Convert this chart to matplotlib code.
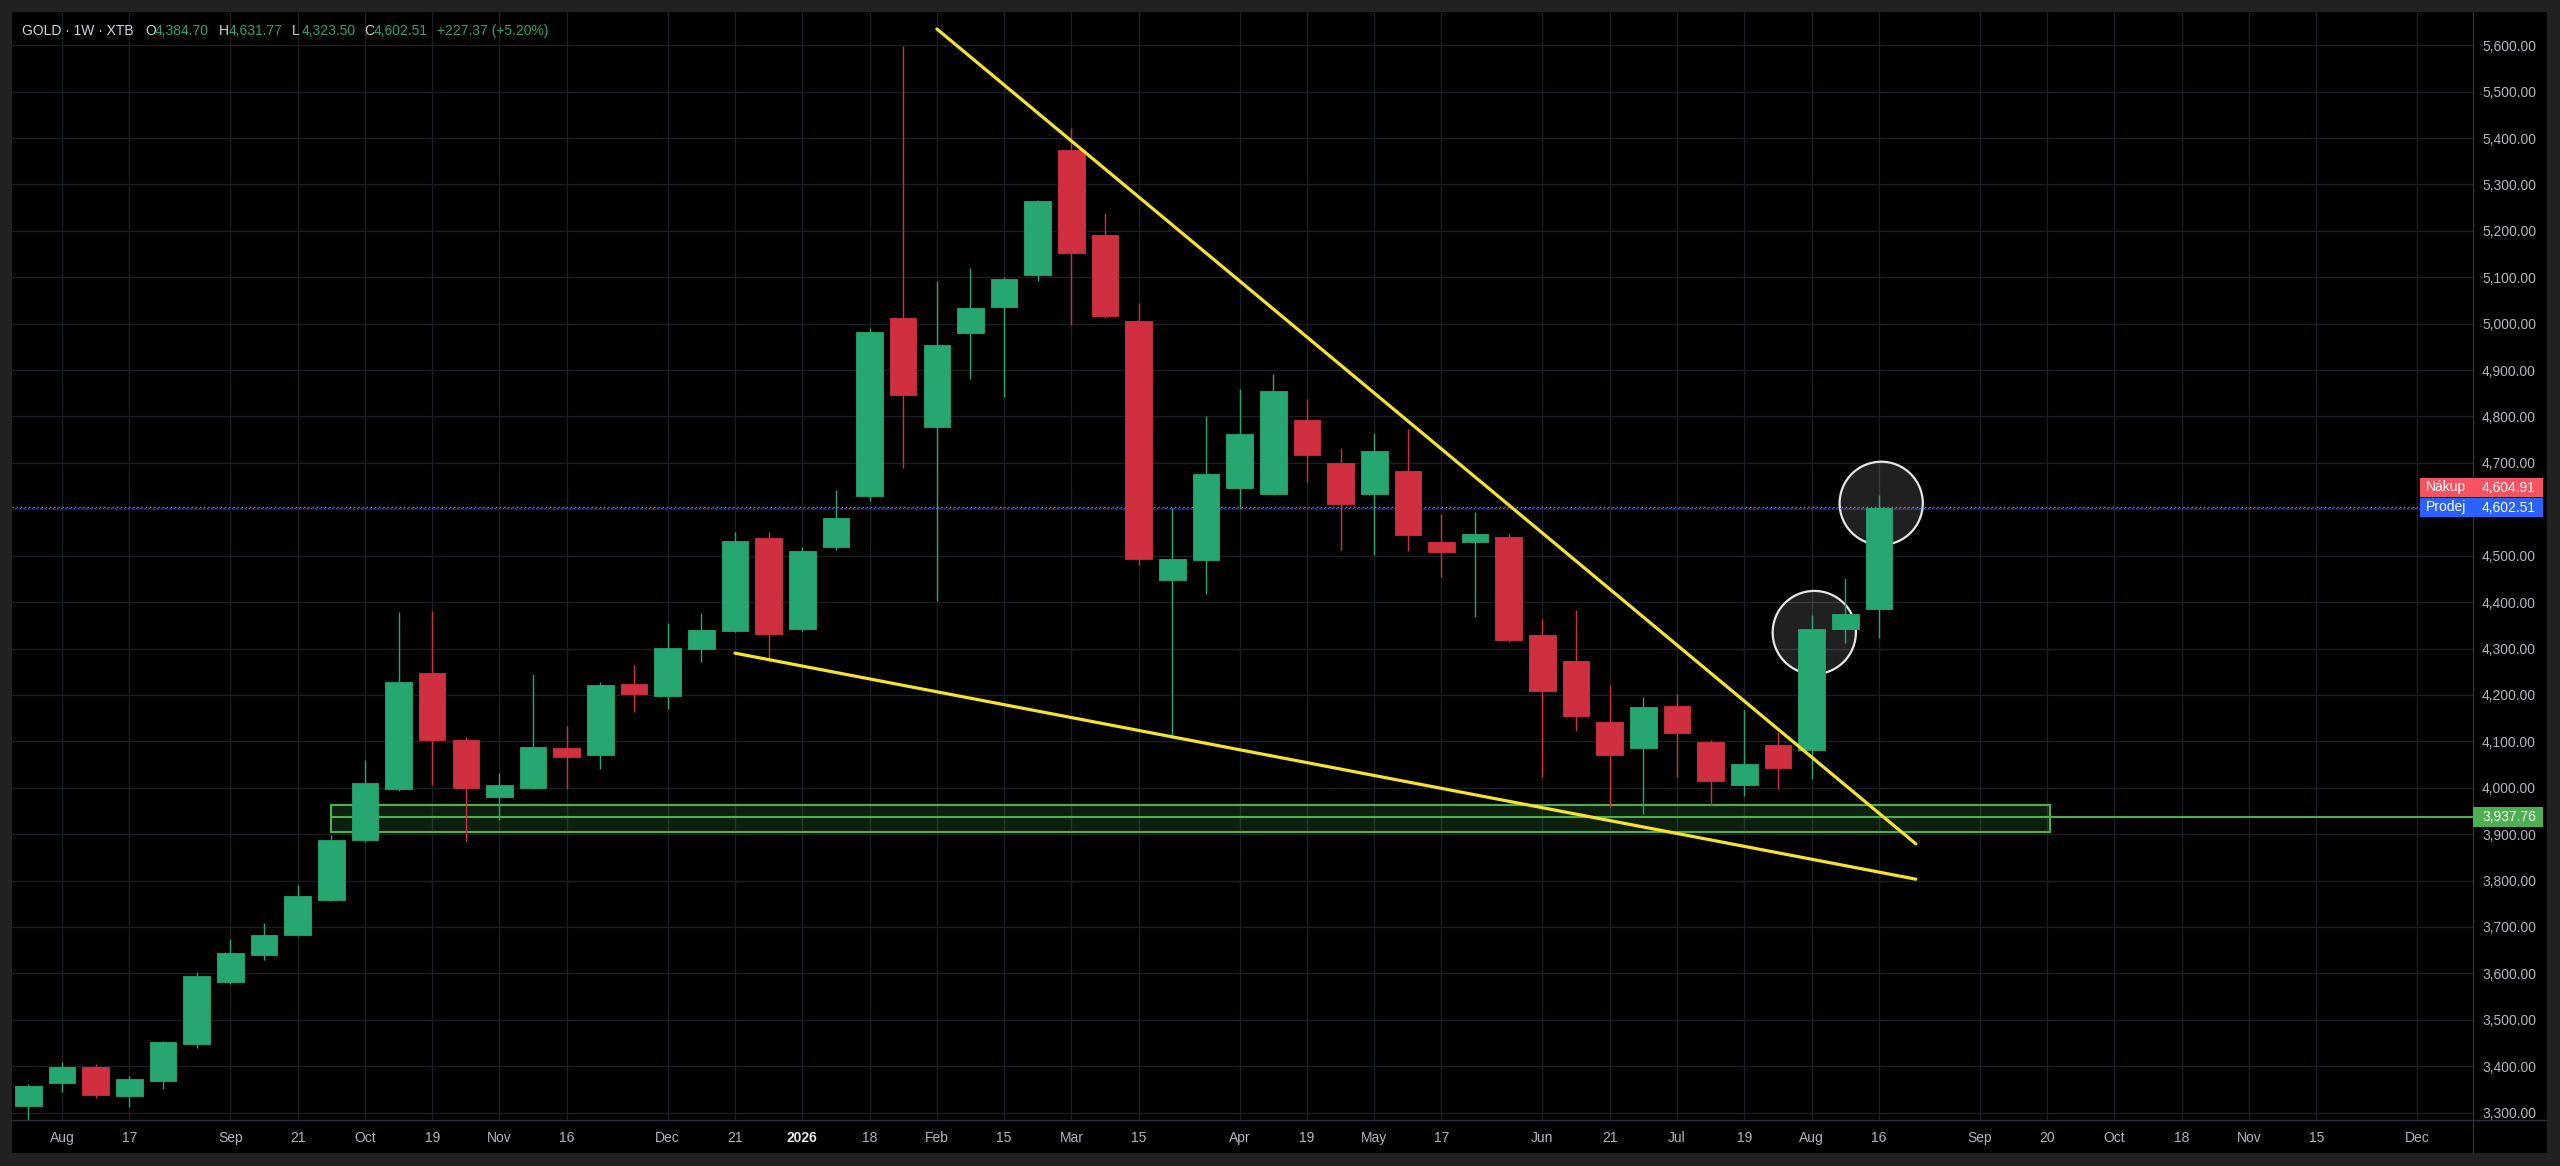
import numpy as np
import pandas as pd
import matplotlib.pyplot as plt
from matplotlib.patches import Rectangle, Ellipse

plt.rcParams['font.family'] = ['Liberation Sans', 'DejaVu Sans']

# GOLD weekly candles (XTB), weeks start on Sunday
weeks = pd.date_range('2025-07-27', periods=56, freq='W-SUN')

opens = [3315, 3363, 3398, 3335, 3368, 3447, 3581, 3640, 3683, 3758,
         3887, 3998, 4247, 4103, 3980, 4000, 4086, 4071, 4224, 4197,
         4299, 4338, 4538, 4342, 4519, 4628, 5013, 4778, 4979, 5036,
         5105, 5375, 5192, 5006, 4447, 4490, 4646, 4632, 4793, 4700,
         4632, 4683, 4530, 4530, 4541, 4329, 4274, 4142, 4086, 4176,
         4099, 4006, 4092, 4081, 4341, 4384.70]
highs = [3362, 3409, 3405, 3379, 3455, 3602, 3675, 3708, 3791, 3899,
         4060, 4379, 4381, 4110, 4032, 4246, 4132, 4227, 4264, 4355,
         4376, 4550, 4550, 4519, 4642, 4991, 5598, 5092, 5120, 5100,
         5267, 5421, 5239, 5045, 4603, 4801, 4859, 4892, 4837, 4731,
         4765, 4774, 4590, 4595, 4547, 4364, 4383, 4221, 4195, 4202,
         4103, 4168, 4121, 4372, 4451, 4631.77]
lows = [3282, 3345, 3331, 3312, 3351, 3439, 3578, 3628, 3681, 3755,
        3884, 3994, 4005, 3886, 3930, 3997, 3997, 4041, 4163, 4169,
        4272, 4336, 4274, 4338, 4512, 4618, 4688, 4402, 4880, 4843,
        5092, 4997, 5012, 4479, 4107, 4418, 4601, 4630, 4658, 4512,
        4502, 4511, 4455, 4367, 4314, 4024, 4122, 3959, 3944, 4023,
        3961, 3982, 3997, 4018, 4311, 4323.50]
closes = [3357, 3398, 3338, 3373, 3452, 3594, 3644, 3683, 3766, 3887,
          4010, 4227, 4103, 4000, 4005, 4088, 4066, 4221, 4201, 4301,
          4340, 4531, 4331, 4510, 4582, 4981, 4846, 4954, 5034, 5097,
          5265, 5153, 5017, 4492, 4492, 4676, 4762, 4855, 4716, 4611,
          4726, 4545, 4507, 4547, 4318, 4209, 4155, 4070, 4173, 4117,
          4015, 4051, 4043, 4341, 4375, 4602.51]

# time axis labels (position = week number from first candle)
tick_weeks = [1, 3, 6, 8, 10, 12, 14, 16, 19, 21, 23, 25, 27, 29, 31, 33, 36,
              38, 40, 42, 45, 47, 49, 51, 53, 55, 58, 60, 62, 64, 66, 68, 71]
tick_labels = ['Aug', '17', 'Sep', '21', 'Oct', '19', 'Nov', '16', 'Dec', '21',
               '2026', '18', 'Feb', '15', 'Mar', '15', 'Apr', '19', 'May', '17',
               'Jun', '21', 'Jul', '19', 'Aug', '16', 'Sep', '20', 'Oct', '18',
               'Nov', '15', 'Dec']
price_ticks = list(range(3300, 5700, 100))

# drawings on the chart
upper_trend = ([27.0, 56.1], [5635, 3879])
lower_trend = ([21.0, 56.1], [4290, 3803])
zone_x = [9.0, 60.1]
zone_y = [3904.7, 3962.9]
support_level = 3937.76
bid_price = 4604.91
ask_price = 4602.51
circles = [(53.08, 4334.5), (55.07, 4612.9)]

W, H = 2560, 1166
green = '#26a671'
red = '#cf2f3f'
txt = '#b2b5be'


def fx(x):
    return x / W


def fy(y):
    return 1 - y / H


fig = plt.figure(figsize=(W / 100, H / 100), dpi=100)
fig.patch.set_facecolor('#212121')
fig.add_artist(Rectangle((fx(12), fy(1153)), fx(2547 - 12), (1153 - 12) / H,
                         transform=fig.transFigure, facecolor='black', lw=0, zorder=0))

ax = fig.add_axes([fx(12), fy(1120), fx(2473 - 12), (1120 - 12) / H])
ax.set_facecolor('black')
ax.set_xlim(-0.49, 72.66)
ax.set_ylim(3284.1, 5671.5)

# candles
x = np.arange(len(opens))
o = np.array(opens)
c = np.array(closes)
cols = [green if cc >= oo else red for oo, cc in zip(o, c)]
ax.vlines(x, lows, highs, colors=cols, lw=1.0, zorder=3)
body_h = np.maximum(np.abs(c - o), 3)
ax.bar(x, body_h, bottom=np.minimum(o, c), width=0.79, color=cols,
       edgecolor=cols, lw=0.6, zorder=3)

# zone + support ray
ax.add_patch(Rectangle((zone_x[0], zone_y[0]), zone_x[1] - zone_x[0], zone_y[1] - zone_y[0],
                       facecolor=(0.30, 0.69, 0.31, 0.18), edgecolor='#4caf50', lw=1.5, zorder=2))
ax.hlines(support_level, zone_x[0], 72.66, color='#4caf50', lw=1.5, zorder=2.5)

# bid / ask lines
ax.axhline(bid_price, color='#f7525f', lw=1, ls=(0, (1, 2)), zorder=2.5)
ax.axhline(ask_price, color='#2962ff', lw=1, ls=(1, (1, 2)), zorder=2.5)

# circles
for cx, cy in circles:
    ax.add_patch(Ellipse((cx, cy), 2 * 41.6 / 33.64, 2 * 41.6 / 0.4641,
                         facecolor=(1, 1, 1, 0.13), edgecolor='#e6e6e6', lw=1.6, zorder=2))

# trend lines
for tx, ty in (upper_trend, lower_trend):
    ax.plot(tx, ty, color='#f5e42a', lw=2.3, solid_capstyle='round', zorder=4)

# axes styling
for s in ax.spines.values():
    s.set_visible(False)
ax.yaxis.tick_right()
ax.set_yticks(price_ticks)
ax.set_yticklabels(['{:,.2f}'.format(p) for p in price_ticks])
ax.set_xticks(tick_weeks)
ax.set_xticklabels(tick_labels)
ax.tick_params(axis='both', length=0, colors=txt, labelsize=10)
ax.tick_params(axis='y', pad=6.5)
ax.tick_params(axis='x', pad=8)
for lab in ax.get_xticklabels():
    if lab.get_text() == '2026':
        lab.set_fontweight('bold')
        lab.set_color('#e6e6e6')
ax.grid(color='#1a1e25', lw=1)
ax.set_axisbelow(True)

# axis separators
fig.add_artist(plt.Line2D([fx(2473), fx(2473)], [fy(12), fy(1153)], color='#2a2e39', lw=1))
fig.add_artist(plt.Line2D([fx(12), fx(2547)], [fy(1120), fy(1120)], color='#2a2e39', lw=1))


def label_box(x0, x1, y0, y1, color, text, tx, ha='left'):
    fig.add_artist(Rectangle((fx(x0), fy(y1)), fx(x1 - x0), (y1 - y0) / H,
                             transform=fig.transFigure, facecolor=color, lw=0, zorder=5))
    fig.text(fx(tx), fy((y0 + y1) / 2), text, color='white', fontsize=10,
             ha=ha, va='center', zorder=6)


label_box(2420, 2473, 478, 497, '#f7525f', 'Nákup', 2446, ha='center')
label_box(2473, 2543, 478, 497, '#f7525f', '{:,.2f}'.format(bid_price), 2482)
label_box(2420, 2473, 498, 517, '#2962ff', 'Prodej', 2446, ha='center')
label_box(2473, 2543, 498, 517, '#2962ff', '{:,.2f}'.format(ask_price), 2482)
label_box(2473, 2543, 807, 827, '#4caf50', '{:,.2f}'.format(support_level), 2482)

# header
hy = fy(31)
fig.text(fx(22), hy, 'GOLD · 1W · XTB', color='#d1d4dc', fontsize=10, va='center')
parts = [(145, 'O', opens[-1]), (219, 'H', highs[-1]), (292, 'L', lows[-1]), (364, 'C', closes[-1])]
for px, k, v in parts:
    fig.text(fx(px), hy, k, color='#d1d4dc', fontsize=10, va='center')
    fig.text(fx(px + 10), hy, '{:,.2f}'.format(v), color=green, fontsize=10, va='center')
chg = closes[-1] - closes[-2]
fig.text(fx(437), hy, '+227.37 (+5.20%)', color=green, fontsize=10, va='center')

fig.savefig('out.png', dpi=100, facecolor=fig.get_facecolor())
